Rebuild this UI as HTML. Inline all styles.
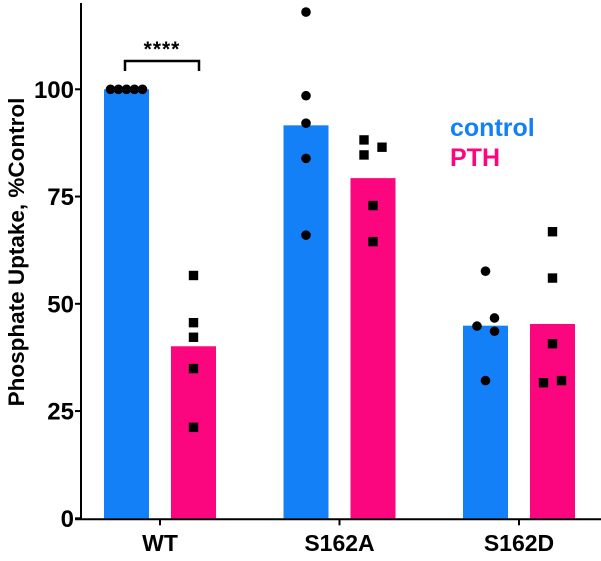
<!DOCTYPE html>
<html><head><meta charset="utf-8"><style>
body{margin:0;background:#fff}
svg text{font-family:"Liberation Sans",sans-serif;font-weight:bold}
</style></head><body>
<svg id="chart" width="601" height="556" xmlns="http://www.w3.org/2000/svg"></svg>
<script>
const categories = ["WT","S162A","S162D"];
const controlMeans = [100, 91.6, 44.9];
const pthMeans = [40.1, 79.3, 45.3];
const controlPoints = [[100,100,100,100,100],[118.0,98.5,92.1,83.9,66.0],[57.6,44.8,46.7,43.6,32.1]];
const pthPoints = [[56.6,45.6,42.2,34.9,21.2],[88.2,84.7,86.5,72.9,64.5],[66.8,56.0,40.7,31.6,32.1]];
const yTicks = [0,25,50,75,100];

const NS="http://www.w3.org/2000/svg";
const svg=document.getElementById('chart');
const y0=518.3, pxPer=4.29;
const y=v=>y0-v*pxPer;
const x=i=>160+i*179.5;
const BW=45, OFF=33.5;
const jitterC=[[-16,-8,0,8,16],[0,0,0,0,0],[0,-8.5,9,9,0]];
const jitterP=[[0,0,0,0,0],[-9,-9,9,0,0],[0,0,0,-9,9]];
function el(t,a,txt){const e=document.createElementNS(NS,t);for(const k in a)e.setAttribute(k,a[k]);if(txt!==undefined)e.textContent=txt;svg.appendChild(e);return e;}

categories.forEach((c,i)=>{
  let b=el('rect',{x:x(i)-OFF-BW/2,y:y(controlMeans[i]),width:BW,height:y(0)-y(controlMeans[i]),fill:'#1480f7'});
  
  
  b=el('rect',{x:x(i)+OFF-BW/2,y:y(pthMeans[i]),width:BW,height:y(0)-y(pthMeans[i]),fill:'#fb067f'});
  
  
});
categories.forEach((c,i)=>{
  controlPoints[i].forEach((v,j)=>{
    const p=el('circle',{cx:x(i)-OFF+jitterC[i][j],cy:y(v),r:4.8,fill:'#000'});
    
    
  });
  pthPoints[i].forEach((v,j)=>{
    const p=el('rect',{x:x(i)+OFF+jitterP[i][j]-4.7,y:y(v)-4.7,width:9.4,height:9.4,fill:'#000'});
    
    
  });
});
let a=el('line',{x1:81,y1:3,x2:81,y2:y0+1,stroke:'#000','stroke-width':2});


a=el('line',{x1:75,y1:y0+1,x2:601,y2:y0+1,stroke:'#000','stroke-width':2});


yTicks.forEach(t=>{
  let l=el('line',{x1:75,y1:y(t),x2:81,y2:y(t),stroke:'#000','stroke-width':2});
  
  
  let tx=el('text',{x:74,y:y(t)+8.5,'text-anchor':'end','font-size':24},String(t));
  
  
});
categories.forEach((c,i)=>{
  let l=el('line',{x1:x(i),y1:y0+1,x2:x(i),y2:y0+7,stroke:'#000','stroke-width':2});
  
  
  let tx=el('text',{x:x(i),y:551,'text-anchor':'middle','font-size':23},c);
  
  
});
let yl=el('text',{x:0,y:0,transform:'translate(24,252) rotate(-90)','text-anchor':'middle','font-size':22.5},'Phosphate Uptake, %Control');


let br=el('path',{d:'M125,71 V61 H199 V71',fill:'none',stroke:'#000','stroke-width':2.5});


let st=el('text',{x:162,y:56,'text-anchor':'middle','font-size':21,'letter-spacing':'1'},'****');


let lc=el('text',{x:450,y:136,'font-size':25,fill:'#1480f7'},'control');


let lp=el('text',{x:450,y:166,'font-size':25,fill:'#fb067f'},'PTH');


</script>
</body></html>
